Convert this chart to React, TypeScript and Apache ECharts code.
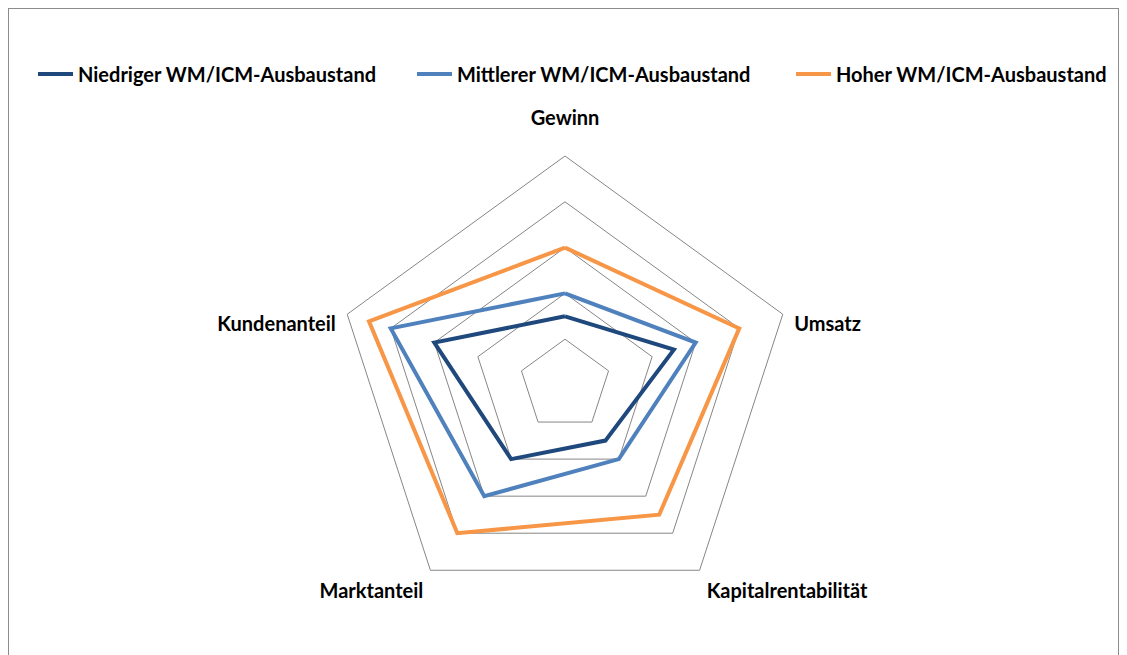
import React, { useEffect, useRef } from "react";
import * as echarts from "echarts";

// Reference order (clockwise from top)
const categories = ["Gewinn", "Umsatz", "Kapitalrentabilität", "Marktanteil", "Kundenanteil"];
const seriesNames = [
  "Niedriger WM/ICM-Ausbaustand",
  "Mittlerer WM/ICM-Ausbaustand",
  "Hoher WM/ICM-Ausbaustand",
];
const niedriger = [1.5, 2.5, 1.5, 2.0, 3.0];
const mittlerer = [2.0, 3.0, 2.0, 3.0, 4.0];
const hoher = [3.0, 4.0, 3.5, 4.0, 4.5];
const axisMax = 5;
const colors = ["#1F497D", "#4F81BD", "#F79646"];

// ECharts places radar indicators counter-clockwise, so reorder
const order = [0, 4, 3, 2, 1];
const reorder = (arr: any[]) => order.map((i) => arr[i]);

// label style key per category (top / side / bottom)
const labelKind: Record<string, string> = {
  Gewinn: "t",
  Umsatz: "s",
  Kundenanteil: "s",
  Kapitalrentabilität: "b",
  Marktanteil: "b",
};

const FONT = "Lato, 'Open Sans', sans-serif";
const FS = 20;
const legendLefts = [29, 408, 787];

export default function App() {
  const ref = useRef<HTMLDivElement>(null);
  useEffect(() => {
    if (!ref.current) return;
    const chart = echarts.init(ref.current, null, { renderer: "svg" });
    const values = [niedriger, mittlerer, hoher];
    const base = { fontFamily: FONT, fontWeight: "bold", fontSize: FS, color: "#000" };
    chart.setOption({
      animation: false,
      textStyle: { fontFamily: FONT },
      legend: seriesNames.map((name, i) => ({
        left: legendLefts[i],
        top: 55,
        padding: 0,
        itemWidth: 35,
        itemHeight: 4,
        icon: "rect",
        textStyle: base,
        data: [name],
      })),
      radar: {
        center: [556, 376],
        radius: 229,
        startAngle: 90,
        splitNumber: 5,
        shape: "polygon",
        indicator: reorder(categories).map((name) => ({ name, max: axisMax, min: 0 })),
        axisName: {
          ...base,
          formatter: (name: string) => `{${labelKind[name]}|${name}}`,
          rich: {
            t: { ...base, padding: [0, 0, 17, 0] },
            s: { ...base, padding: [24, 0, 0, 0] },
            b: { ...base, padding: [20, 0, 0, 0] },
          },
        },
        nameGap: 12,
        axisLine: { show: false },
        axisTick: { show: false },
        axisLabel: { show: false },
        splitArea: { show: false },
        splitLine: { lineStyle: { color: "#868686", width: 1 } },
      },
      series: [
        {
          type: "radar",
          symbol: "none",
          data: values.map((v, i) => ({
            name: seriesNames[i],
            value: reorder(v),
            itemStyle: { color: colors[i] },
            lineStyle: { color: colors[i], width: 4, join: "miter" },
          })),
        },
      ],
    });
    return () => chart.dispose();
  }, []);
  return (
    <div
      style={{
        width: 1111,
        height: 647,
        boxSizing: "border-box",
        borderTop: "1px solid #8c8c8c",
        borderLeft: "1px solid #8c8c8c",
        borderRight: "1px solid #8c8c8c",
        position: "relative",
        background: "#fff",
      }}
    >
      <div ref={ref} style={{ position: "absolute", left: 0, top: 0, width: 1109, height: 646 }} />
    </div>
  );
}
